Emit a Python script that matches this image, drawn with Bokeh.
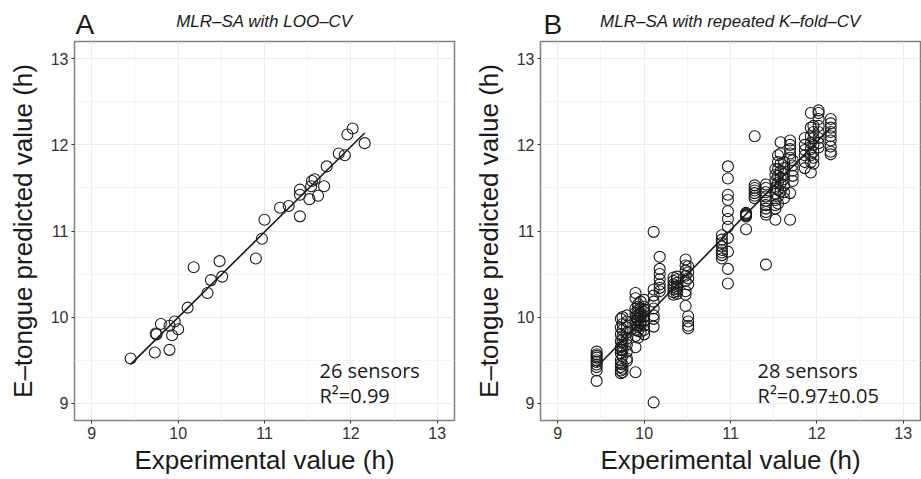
import numpy as np
from bokeh.plotting import figure
from bokeh.layouts import row, column
from bokeh.models import Range1d, FixedTicker, Label
from bokeh.embed import file_html
from bokeh.resources import INLINE

# ---------------- data ----------------
# Panel A: MLR-SA with LOO-CV (26 sensors)
loo_experimental = [12.02, 11.96, 12.16, 11.86, 11.93, 11.72, 11.58, 11.55, 11.54, 11.69,
                    11.41, 11.41, 11.52, 11.62, 11.18, 11.28, 11.41, 11.00, 10.97, 10.90,
                    10.18, 10.48, 10.38, 10.51, 10.34, 10.11, 9.96, 9.80, 9.90, 10.00,
                    9.74, 9.75, 9.93, 9.73, 9.90, 9.45]
loo_predicted = [12.19, 12.12, 12.02, 11.90, 11.88, 11.75, 11.60, 11.58, 11.52, 11.52,
                 11.48, 11.42, 11.37, 11.41, 11.27, 11.29, 11.17, 11.13, 10.91, 10.68,
                 10.58, 10.65, 10.43, 10.47, 10.28, 10.11, 9.95, 9.92, 9.90, 9.86,
                 9.81, 9.80, 9.79, 9.59, 9.62, 9.52]

# Panel B: MLR-SA with repeated K-fold-CV (28 sensors)
kfold_experimental = [9.45, 9.73, 9.75, 9.80, 9.90, 9.93, 9.96, 10.00, 10.11, 10.18,
                      10.34, 10.38, 10.48, 10.51, 10.90, 10.97, 11.18, 11.28, 11.41, 11.52,
                      11.55, 11.58, 11.62, 11.69, 11.72, 11.86, 11.93, 11.96, 12.02, 12.16]
kfold_predicted = [
    [9.60, 9.57, 9.55, 9.53, 9.50, 9.48, 9.45, 9.42, 9.38, 9.26],
    [9.98, 9.88, 9.80, 9.72, 9.65, 9.58, 9.50, 9.42, 9.38, 9.35, 9.62, 9.46],
    [10.00, 9.92, 9.85, 9.78, 9.70, 9.62, 9.55, 9.45, 9.40, 9.36, 9.74, 9.66],
    [10.02, 9.95, 9.88, 9.82, 9.75, 9.68, 9.60, 9.52, 9.49],
    [10.28, 10.22, 10.10, 10.00, 9.92, 9.85, 9.78, 9.65, 9.36, 10.05, 9.96],
    [10.15, 10.08, 10.02, 9.96, 9.90, 9.84, 9.76, 10.12, 9.98],
    [10.18, 10.10, 10.05, 10.00, 9.95, 9.90, 9.83, 10.03, 9.93],
    [10.20, 10.12, 10.06, 10.01, 9.96, 9.90, 9.85, 9.80, 10.09],
    [10.99, 10.32, 10.25, 10.18, 10.10, 10.02, 9.98, 9.89, 9.01],
    [10.70, 10.56, 10.50, 10.44, 10.38, 10.34, 10.30],
    [10.46, 10.42, 10.38, 10.35, 10.32, 10.29, 10.26],
    [10.47, 10.44, 10.40, 10.36, 10.33, 10.30, 10.27],
    [10.67, 10.60, 10.54, 10.48, 10.42, 10.30, 10.26, 10.13],
    [10.59, 10.52, 10.45, 10.38, 10.01, 9.95, 9.90, 9.87],
    [10.95, 10.90, 10.86, 10.82, 10.78, 10.75, 10.72, 10.68],
    [11.75, 11.61, 11.42, 11.36, 11.23, 11.14, 11.05, 10.92, 10.76, 10.56, 10.39],
    [11.21, 11.20, 11.19, 11.18, 11.17, 11.02],
    [12.10, 11.53, 11.50, 11.47, 11.44, 11.41, 11.38],
    [11.54, 11.50, 11.45, 11.40, 11.35, 11.30, 11.26, 11.22, 11.19, 10.61],
    [11.72, 11.65, 11.58, 11.50, 11.43, 11.36, 11.30, 11.26, 11.13],
    [11.88, 11.80, 11.72, 11.64, 11.56, 11.48, 11.40, 11.32],
    [12.03, 11.90, 11.78, 11.70, 11.62, 11.55, 11.46],
    [11.80, 11.73, 11.66, 11.60, 11.53, 11.45, 11.38],
    [12.05, 12.00, 11.95, 11.90, 11.85, 11.44, 11.13],
    [11.82, 11.76, 11.70, 11.64, 11.58],
    [12.08, 12.00, 11.94, 11.88, 11.80, 11.73],
    [12.37, 12.20, 12.10, 12.02, 11.95, 11.88, 11.80, 11.68],
    [12.22, 12.15, 12.08, 12.00, 11.92, 11.85, 11.78],
    [12.40, 12.37, 12.30, 12.22, 12.15, 12.08, 12.02, 11.97],
    [12.30, 12.25, 12.20, 12.15, 12.10, 12.05, 11.98, 11.92, 11.89],
]

axis_ticks = [9, 10, 11, 12, 13]
minor_ticks = [9.5, 10.5, 11.5, 12.5]
axis_limits = (8.8, 13.2)

panel_letters = ["A", "B"]
panel_titles = ["MLR\u2013SA with LOO\u2013CV", "MLR\u2013SA with repeated K\u2013fold\u2013CV"]
sensor_texts = ["26 sensors", "28 sensors"]
r2_texts = ["R\u00b2=0.99", "R\u00b2=0.97\u00b10.05"]

x_label = "Experimental value (h)"
y_label = "E\u2013tongue predicted value (h)"

INK = "#1a1a1a"
FONT = "Liberation Sans"
HEADER_H = 40
MAIN_H = 479 - HEADER_H


def make_header(letter, title, width, left, right, letter_x):
    h = figure(width=width, height=HEADER_H, output_backend="svg", toolbar_location=None,
               x_range=Range1d(*axis_limits), y_range=Range1d(0, HEADER_H),
               x_axis_type=None, y_axis_type=None,
               min_border_left=left, min_border_right=right,
               min_border_top=0, min_border_bottom=0,
               background_fill_color="white", border_fill_color="white")
    h.grid.visible = False
    h.outline_line_color = None
    h.add_layout(Label(x=letter_x, y=0.5, text=letter, text_font=FONT,
                       text_font_size="28px", text_color=INK,
                       text_align="left", text_baseline="bottom"))
    h.add_layout(Label(x=sum(axis_limits) / 2, y=9.5, text=title, text_font=FONT,
                       text_font_style="italic", text_font_size="17px", text_color=INK,
                       text_align="center", text_baseline="bottom"))
    return h


def make_panel(x, y, sensors, r2, width, left, right, annot_x):
    p = figure(width=width, height=MAIN_H, output_backend="svg", toolbar_location=None,
               x_range=Range1d(*axis_limits), y_range=Range1d(*axis_limits),
               min_border_left=left, min_border_right=right,
               min_border_top=1, min_border_bottom=MAIN_H - 1 - 379,
               background_fill_color="white", border_fill_color="white")

    for ax in (p.xaxis[0], p.yaxis[0]):
        ax.ticker = FixedTicker(ticks=axis_ticks, minor_ticks=minor_ticks)
        ax.axis_line_color = None
        ax.major_tick_line_color = "#333333"
        ax.major_tick_out = 3
        ax.major_tick_in = 0
        ax.minor_tick_line_color = None
        ax.major_label_text_font = FONT
        ax.major_label_text_font_size = "16px"
        ax.major_label_text_color = "#333333"
        ax.major_label_standoff = 2
        ax.axis_label_text_font = FONT
        ax.axis_label_text_font_size = "26px"
        ax.axis_label_text_font_style = "normal"
        ax.axis_label_text_color = INK
    p.xaxis.axis_label = x_label
    p.yaxis.axis_label = y_label
    p.xaxis.axis_label_standoff = 3
    p.yaxis.axis_label_standoff = 10

    for g in (p.xgrid[0], p.ygrid[0]):
        g.grid_line_color = "#ebebeb"
        g.grid_line_width = 1
        g.minor_grid_line_color = "#f4f4f4"
        g.minor_grid_line_width = 1

    p.outline_line_color = "#808080"
    p.outline_line_width = 1.5

    coef = np.polyfit(x, y, 1)
    xs = np.array([min(x), max(x)])
    p.line(xs, np.polyval(coef, xs), line_color=INK, line_width=1.6)
    p.scatter(x, y, marker="circle", size=11, fill_color=None,
              line_color=INK, line_width=1.1)

    p.add_layout(Label(x=annot_x, y=9.218, text=sensors, text_font="Open Sans",
                       text_font_size="20px", text_color=INK))
    p.add_layout(Label(x=annot_x, y=8.928, text=r2, text_font="Open Sans",
                       text_font_size="20px", text_color=INK))
    return p


bx = [xv for xv, preds in zip(kfold_experimental, kfold_predicted) for _ in preds]
by = [pv for preds in kfold_predicted for pv in preds]

hA = make_header(panel_letters[0], panel_titles[0], 460, 74, 6, 8.812)
pA = make_panel(loo_experimental, loo_predicted, sensor_texts[0], r2_texts[0],
                460, 74, 6, 11.637)
hB = make_header(panel_letters[1], panel_titles[1], 461, 80, 1, 8.835)
pB = make_panel(bx, by, sensor_texts[1], r2_texts[1], 461, 80, 1, 11.313)

layout = row(column(hA, pA), column(hB, pB))
open("out.html", "w").write(file_html(layout, INLINE))
